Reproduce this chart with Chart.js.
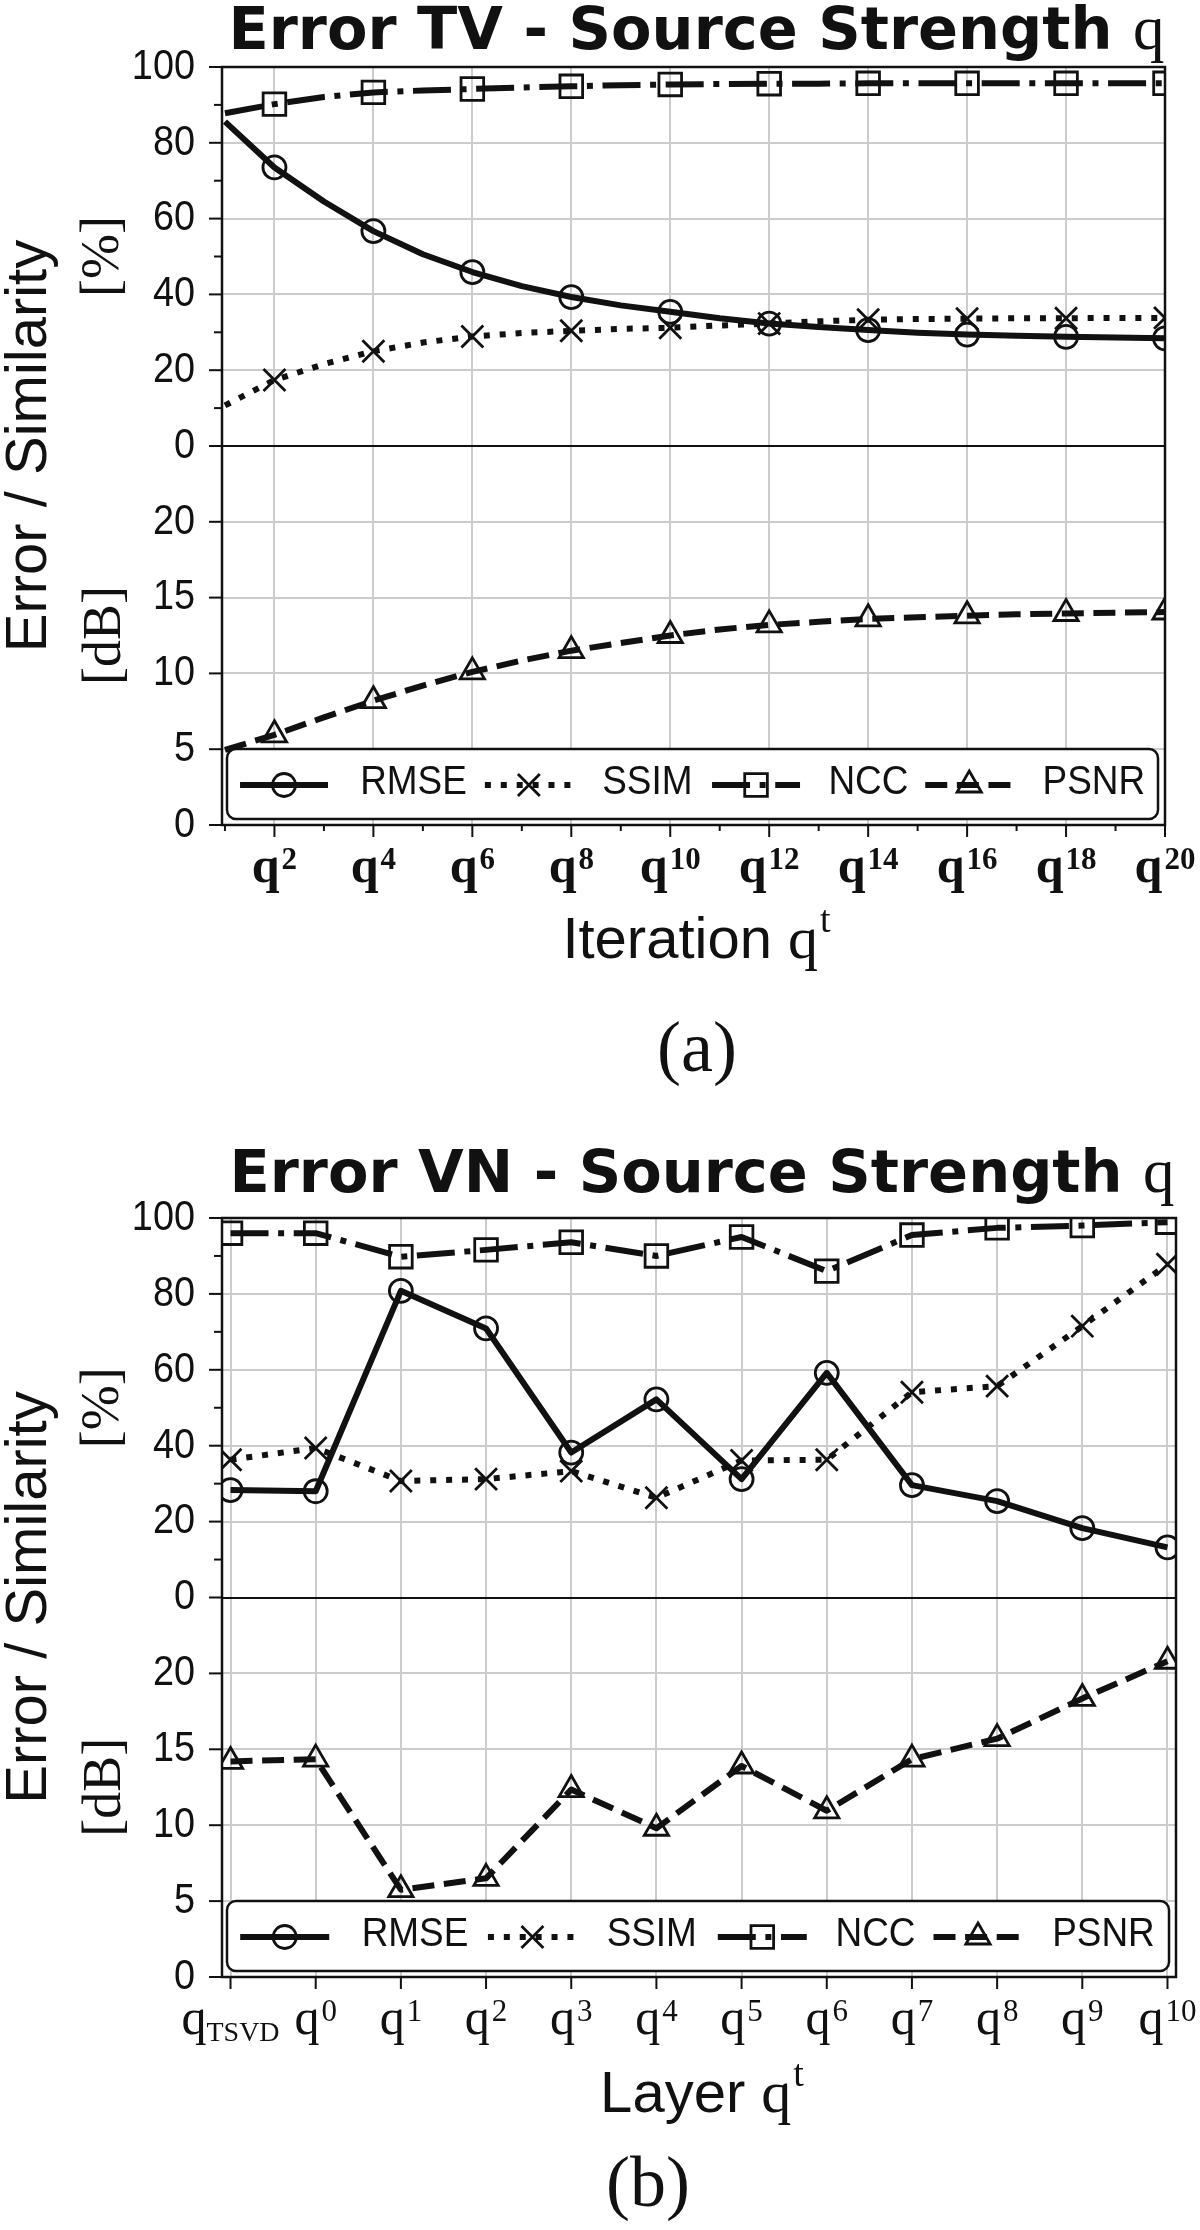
<!DOCTYPE html>
<html>
<head>
<meta charset="utf-8">
<script src="https://cdn.jsdelivr.net/npm/chart.js@4.4.1/dist/chart.umd.min.js"></script>
<style>
  html, body { margin: 0; padding: 0; background: #fff; }
  canvas { display: block; }
</style>
</head>
<body>
<canvas id="chartTV" width="1200" height="1115"></canvas>
<canvas id="chartVN" width="1200" height="1115"></canvas>
<script>
// ---- data (a): TV iterations ----
const tvIterations = [1, 2, 3, 4, 5, 6, 7, 8, 9, 10, 11, 12, 13, 14, 15, 16, 17, 18, 19, 20];
const tvRmse = [85.6, 73.5, 64.5, 56.7, 50.6, 45.9, 42.2, 39.3, 37.1, 35.4, 33.7, 32.3, 31.4, 30.6, 29.9, 29.4, 29.1, 28.8, 28.6, 28.4];
const tvSsim = [10.7, 17.4, 21.6, 25.0, 27.3, 28.9, 29.8, 30.4, 30.9, 31.2, 31.8, 32.3, 32.9, 33.3, 33.5, 33.6, 33.7, 33.7, 33.8, 33.8];
const tvNcc = [87.8, 90.2, 92.1, 93.3, 93.8, 94.2, 94.6, 94.9, 95.2, 95.4, 95.5, 95.6, 95.6, 95.7, 95.7, 95.7, 95.7, 95.7, 95.7, 95.7];
const tvPsnr = [4.95, 5.95, 7.1, 8.2, 9.2, 10.1, 10.85, 11.5, 12.0, 12.5, 12.9, 13.2, 13.4, 13.6, 13.7, 13.8, 13.9, 13.95, 14.0, 14.05];
const tvLabelIterations = [2, 4, 6, 8, 10, 12, 14, 16, 18, 20];

// ---- data (b): VN layers ----
const vnLayers = ['TSVD', '0', '1', '2', '3', '4', '5', '6', '7', '8', '9', '10'];
const vnRmse = [28.3, 28.0, 80.8, 70.9, 38.2, 52.2, 31.2, 59.2, 29.6, 25.4, 18.3, 13.2];
const vnSsim = [36.3, 39.4, 30.7, 31.2, 33.3, 26.3, 36.1, 36.3, 54.1, 55.7, 71.5, 87.8];
const vnNcc = [96.0, 96.0, 89.8, 91.6, 93.6, 90.0, 95.0, 86.0, 95.5, 97.4, 98.0, 98.9];
const vnPsnr = [14.2, 14.35, 5.75, 6.5, 12.35, 9.8, 13.9, 10.95, 14.35, 15.7, 18.35, 20.8];

// ---- axis ticks ----
const pctTicks = [0, 20, 40, 60, 80, 100];
const pctMinorTicks = [10, 30, 50, 70, 90];
const dbTicks = [0, 5, 10, 15, 20];
const seriesNames = ['RMSE', 'SSIM', 'NCC', 'PSNR'];

const INK = '#111';
const GRID = '#cccccc';
const NONE = 'rgba(0,0,0,0)';
const SANS = '"Liberation Sans", Arial, sans-serif';
const SERIF = '"Liberation Serif", "Times New Roman", serif';
const LINE_W = 6;

const seriesStyle = {
  RMSE: { dash: [], pointStyle: 'circle', radius: 11.5, axis: 'pct' },
  SSIM: { dash: [6, 9.9], pointStyle: 'crossRot', radius: 15.5, axis: 'pct' },
  NCC:  { dash: [38, 9.6, 6, 9.6], pointStyle: 'rect', radius: 16, axis: 'pct' },
  PSNR: { dash: [22, 9.6], pointStyle: 'triangle', radius: 14, axis: 'db' }
};

function makeDatasets(xs, valuesList, showMarker) {
  return seriesNames.map(function(name, k) {
    const st = seriesStyle[name];
    return {
      label: name,
      data: xs.map((x, i) => ({ x: x, y: valuesList[k][i] })),
      yAxisID: st.axis,
      borderColor: INK,
      borderWidth: LINE_W,
      borderDash: st.dash,
      borderCapStyle: 'butt',
      borderJoinStyle: 'round',
      tension: 0,
      fill: false,
      pointStyle: st.pointStyle,
      pointRadius: xs.map(x => showMarker(x) ? st.radius : 0),
      pointHoverRadius: 0,
      pointBorderWidth: 2.8,
      pointBorderColor: INK,
      pointBackgroundColor: NONE
    };
  });
}

function drawText(ctx, text, x, y, font, align, baseline, sx) {
  ctx.save();
  ctx.font = font;
  ctx.textAlign = align;
  ctx.textBaseline = baseline;
  ctx.translate(x, y);
  if (sx) ctx.scale(sx, 1);
  ctx.fillText(text, 0, 0);
  ctx.restore();
}

// q with a superscript (or TSVD subscript) centred on a tick
function drawQLabel(ctx, cx, baseline, script, bold, isSub) {
  const w = bold ? 'bold ' : '';
  const qFont = w + '50px ' + SERIF;
  const sFont = isSub ? '28px ' + SERIF : w + '31px ' + SERIF;
  ctx.save();
  ctx.font = qFont;
  const wq = ctx.measureText('q').width;
  ctx.font = sFont;
  const ws = ctx.measureText(script).width;
  const gap = isSub ? 0 : 2;
  const x0 = cx - (wq + gap + ws) / 2;
  ctx.fillStyle = INK;
  ctx.textAlign = 'left';
  ctx.textBaseline = 'alphabetic';
  ctx.font = qFont;
  ctx.fillText('q', x0, baseline);
  ctx.font = sFont;
  ctx.fillText(script, x0 + wq + gap, isSub ? baseline + 7 : baseline - 13);
  ctx.restore();
}

function drawMarker(ctx, style, radius, x, y) {
  ctx.save();
  ctx.setLineDash([]);
  ctx.lineWidth = 2.8;
  ctx.strokeStyle = INK;
  ctx.fillStyle = NONE;
  Chart.helpers.drawPoint(ctx, { pointStyle: style, radius: radius, borderWidth: 2.8, rotation: 0 }, x, y);
  ctx.restore();
}

// frame, ticks, labels, legend, titles
const decorPlugin = {
  id: 'decor',
  afterDraw(chart, args, o) {
    const ctx = chart.ctx;
    const a = chart.chartArea;
    const sx = chart.scales.x, sp = chart.scales.pct, sd = chart.scales.db;
    ctx.save();
    ctx.fillStyle = INK;
    ctx.strokeStyle = INK;

    // frame
    ctx.lineWidth = 2.5;
    ctx.strokeRect(a.left, a.top, a.right - a.left, a.bottom - a.top);

    // y ticks
    ctx.lineWidth = 2;
    const yTick = (y, len) => { ctx.beginPath(); ctx.moveTo(a.left - len, y); ctx.lineTo(a.left, y); ctx.stroke(); };
    pctTicks.forEach(v => yTick(sp.getPixelForValue(v), 13));
    pctMinorTicks.forEach(v => yTick(sp.getPixelForValue(v), 8));
    dbTicks.forEach(v => yTick(sd.getPixelForValue(v), 13));
    const tickFont = '43px ' + SANS;
    pctTicks.forEach(v => drawText(ctx, String(v), a.left - 27, sp.getPixelForValue(v), tickFont, 'right', 'middle', 0.88));
    dbTicks.forEach(v => drawText(ctx, String(v), a.left - 27, sd.getPixelForValue(v), tickFont, 'right', 'middle', 0.88));

    // x ticks and labels
    o.xTicks.forEach(t => {
      const x = sx.getPixelForValue(t.value);
      ctx.beginPath(); ctx.moveTo(x, a.bottom); ctx.lineTo(x, a.bottom + (t.label != null ? 12 : 6)); ctx.stroke();
      if (t.label != null) drawQLabel(ctx, x, a.bottom + 57, t.label, o.boldTicks, t.label === 'TSVD');
    });

    // x axis title: word + q^t
    const cx = (a.left + a.right) / 2 + 3;
    const xt = a.bottom + o.xTitleDrop;
    const wordFont = '58px ' + SANS, qFont = '60px ' + SERIF, tFont = '38px ' + SERIF;
    ctx.font = wordFont;
    const ww = ctx.measureText(o.xWord + ' ').width;
    ctx.font = qFont;
    const wq = ctx.measureText('q').width;
    ctx.font = tFont;
    const wt = ctx.measureText('t').width;
    const x0 = cx - (ww + wq + wt + 2) / 2;
    drawText(ctx, o.xWord + ' ', x0, xt, wordFont, 'left', 'alphabetic');
    drawText(ctx, 'q', x0 + ww, xt, qFont, 'left', 'alphabetic');
    drawText(ctx, 't', x0 + ww + wq + 2, xt - 26, tFont, 'left', 'alphabetic');

    // y axis titles (rotated)
    const rot = (text, x, y, font, baseline) => {
      ctx.save();
      ctx.translate(x, y);
      ctx.rotate(-Math.PI / 2);
      ctx.font = font; ctx.textAlign = 'center'; ctx.textBaseline = baseline;
      ctx.fillText(text, 0, 0);
      ctx.restore();
    };
    rot('Error / Similarity', 46, (a.top + a.bottom) / 2, '58px ' + SANS, 'alphabetic');
    rot('[%]', 104, (sp.top + sp.bottom) / 2, '54px ' + SERIF, 'middle');
    rot('[dB]', 106, (sd.top + sd.bottom) / 2, '54px ' + SERIF, 'middle');

    // legend
    const lx = a.left + 5, lw = a.right - 7 - lx;
    const lb = a.bottom - 6, lt = lb - 70, lh = lb - lt;
    ctx.save();
    ctx.beginPath();
    ctx.roundRect(lx, lt, lw, lh, 9);
    ctx.fillStyle = '#fff';
    ctx.fill();
    ctx.lineWidth = 2.5;
    ctx.strokeStyle = INK;
    ctx.stroke();
    ctx.restore();
    const sampleAt = [0.014, 0.277, 0.521, 0.750];
    const labelAt = [0.143, 0.403, 0.646, 0.876];
    const sampleLen = 0.0945 * lw;
    const ly = lt + lh / 2 + 1;
    chart.data.datasets.forEach((ds, k) => {
      const s0 = lx + sampleAt[k] * lw;
      ctx.save();
      ctx.lineWidth = ds.borderWidth;
      ctx.lineCap = 'butt';
      ctx.setLineDash(ds.borderDash);
      ctx.beginPath(); ctx.moveTo(s0, ly); ctx.lineTo(s0 + sampleLen, ly); ctx.stroke();
      ctx.restore();
      const st = seriesStyle[ds.label];
      drawMarker(ctx, st.pointStyle, st.radius, s0 + sampleLen / 2, ly);
      drawText(ctx, ds.label, lx + labelAt[k] * lw, lb - 25, '41px ' + SANS, 'left', 'alphabetic', 0.9);
    });

    // title: bold sans + serif q
    const tcx = (a.left + a.right) / 2 + 3;
    const titleFont = 'bold 59px "DejaVu Sans", sans-serif', titleQ = '63px ' + SERIF;
    ctx.font = titleFont;
    const wt1 = ctx.measureText(o.title + ' ').width;
    ctx.font = titleQ;
    const wt2 = ctx.measureText('q').width;
    const tx0 = tcx - (wt1 + wt2) / 2;
    drawText(ctx, o.title + ' ', tx0, o.titleBaseline, titleFont, 'left', 'alphabetic');
    drawText(ctx, 'q', tx0 + wt1, o.titleBaseline, titleQ, 'left', 'alphabetic');

    // caption
    drawText(ctx, o.caption, o.captionX, o.captionY, '72px ' + SERIF, 'center', 'middle');
    ctx.restore();
  }
};

function buildPanel(canvasId, p) {
  return new Chart(document.getElementById(canvasId), {
    type: 'line',
    data: { datasets: p.datasets },
    options: {
      responsive: false,
      animation: false,
      devicePixelRatio: 1,
      events: [],
      layout: { padding: { top: p.top, right: p.right, left: 0, bottom: 0 } },
      plugins: {
        legend: { display: false },
        tooltip: { enabled: false },
        decor: p.decor
      },
      scales: {
        x: {
          type: 'linear', min: p.xMin, max: p.xMax, offset: false,
          afterBuildTicks: s => { s.ticks = p.decor.xTicks.map(t => ({ value: t.value })); },
          afterFit: s => { s.height = p.xAxisHeight; },
          ticks: { display: false },
          grid: { drawTicks: false, lineWidth: 2, color: c => (c.tick && p.xGridAt(c.tick.value)) ? GRID : NONE },
          border: { display: false }
        },
        db: {
          type: 'linear', position: 'left', stack: 'yaxes', stackWeight: 1, weight: 0,
          min: 0, max: 25,
          afterBuildTicks: s => { s.ticks = dbTicks.concat([25]).map(v => ({ value: v })); },
          afterFit: s => { s.width = 222; },
          ticks: { display: false },
          grid: { drawTicks: false, lineWidth: 2, color: c => (c.tick && c.tick.value > 0 && c.tick.value < 25) ? GRID : NONE },
          border: { display: false }
        },
        pct: {
          type: 'linear', position: 'left', stack: 'yaxes', stackWeight: 1, weight: 1,
          min: 0, max: 100,
          afterBuildTicks: s => { s.ticks = pctTicks.map(v => ({ value: v })); },
          afterFit: s => { s.width = 222; },
          ticks: { display: false },
          grid: { drawTicks: false, lineWidth: 2, color: c => !c.tick ? NONE : (c.tick.value === 0 ? INK : (c.tick.value < 100 ? GRID : NONE)) },
          border: { display: false }
        }
      }
    },
    plugins: [decorPlugin]
  });
}

// panel (a)
buildPanel('chartTV', {
  datasets: makeDatasets(tvIterations, [tvRmse, tvSsim, tvNcc, tvPsnr], x => x % 2 === 0),
  top: 67, right: 35, xAxisHeight: 290,
  xMin: 0.94, xMax: 20,
  xGridAt: v => v % 2 === 0,
  decor: {
    title: 'Error TV - Source Strength', titleBaseline: 49,
    caption: '(a)', captionX: 697, captionY: 1052,
    xWord: 'Iteration', xTitleDrop: 133, boldTicks: true,
    xTicks: tvIterations.map(it => ({ value: it, label: tvLabelIterations.includes(it) ? String(it) : null }))
  }
});

// panel (b)
buildPanel('chartVN', {
  datasets: makeDatasets(vnLayers.map((l, i) => i), [vnRmse, vnSsim, vnNcc, vnPsnr], () => true),
  top: 103, right: 24, xAxisHeight: 253,
  xMin: -0.1, xMax: 11.1,
  xGridAt: () => true,
  decor: {
    title: 'Error VN - Source Strength', titleBaseline: 77,
    caption: '(b)', captionX: 648, captionY: 1072,
    xWord: 'Layer', xTitleDrop: 135, boldTicks: false,
    xTicks: vnLayers.map((l, i) => ({ value: i, label: l }))
  }
});
</script>
</body>
</html>
